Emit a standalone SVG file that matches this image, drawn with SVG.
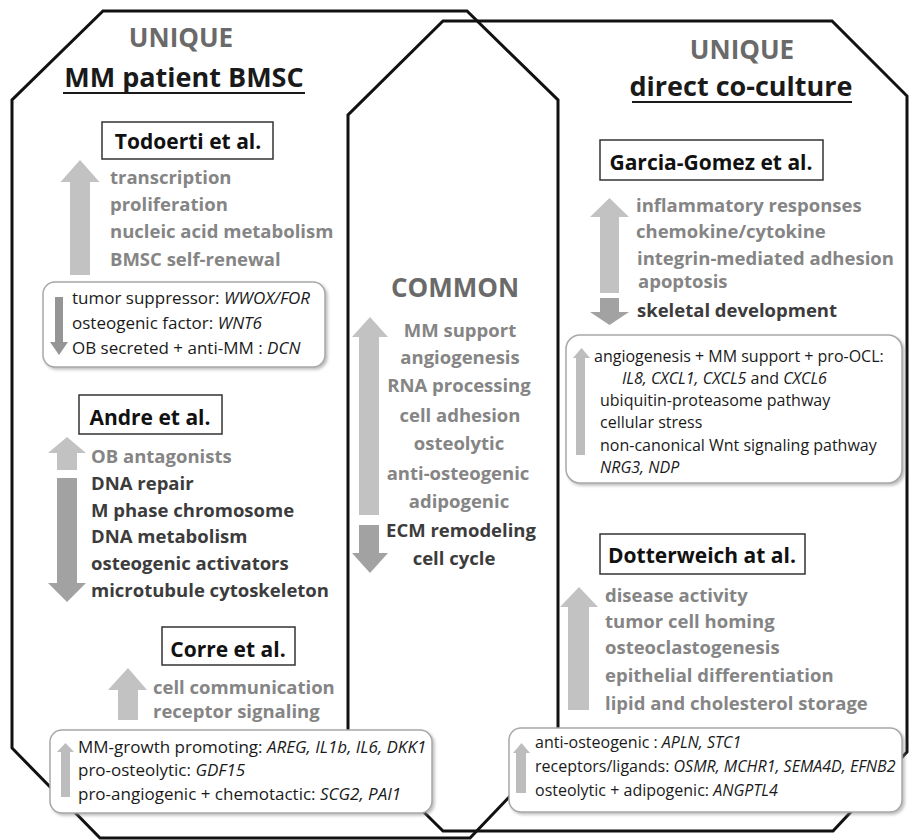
<svg xmlns="http://www.w3.org/2000/svg" width="909" height="840" viewBox="0 0 909 840">
<defs>
<filter id="sh" x="-5%" y="-10%" width="112%" height="130%">
<feDropShadow dx="2" dy="2" stdDeviation="1.5" flood-color="#888" flood-opacity="0.55"/>
</filter>
<style>
.oct{fill:none;stroke:#111;stroke-width:3;stroke-linejoin:miter}
.lbl{fill:#fff;stroke:#333;stroke-width:1.5}
.rb{fill:#fff;stroke:#a8a8a8;stroke-width:1.5;filter:url(#sh)}
text{font-family:"Open Sans","Noto Sans","Liberation Sans",sans-serif}
.hd{font-weight:bold;font-size:26px;fill:#6a6a6a;text-anchor:middle}
.hd2{font-weight:bold;font-size:27px;fill:#1a1a1a;text-anchor:middle}
.ttl{font-weight:bold;font-size:21px;fill:#111;text-anchor:middle}
.g{font-weight:bold;font-size:18.5px;fill:#858585}
.d{font-weight:bold;font-size:18.5px;fill:#3c3c3c}
.s{font-size:16px;fill:#1a1a1a}
.s17{font-size:17px}
.i{font-style:italic}
.la{fill:#c2c2c2}
.da{fill:#a2a2a2}
.ul{stroke:#1a1a1a;stroke-width:2}
</style>
</defs>
<g id="regions">
<path id="left-region" class="oct" d="M103,11 L467,11 L558,100 L558,746 L470,838 L100,838 L12,748 L12,100 Z"/>
<path id="right-region" class="oct" d="M443,21 L832,21 L907,96 L907,752 L833,831 L443,831 L348,737 L348,115 Z"/>
</g>
<g id="header-left">
<text class="hd" x="181" y="47">UNIQUE</text>
<text class="hd2" x="184" y="87">MM patient BMSC</text>
<line class="ul" x1="63" y1="93" x2="305" y2="93"/>
</g>
<g id="header-right">
<text class="hd" x="742" y="59">UNIQUE</text>
<text class="hd2" x="741" y="96">direct co-culture</text>
<line class="ul" x1="632" y1="102" x2="852" y2="102"/>
</g>
<g id="todoerti">
<rect class="lbl" x="102" y="122" width="171" height="37"/>
<text class="ttl" x="188" y="149">Todoerti et al.</text>
<polygon class="la" points="70,275 70,182 60.5,182 80,160 99.5,182 90,182 90,275"/>
<text class="g" x="110" y="184">transcription</text>
<text class="g" x="110" y="211">proliferation</text>
<text class="g" x="110" y="238">nucleic acid metabolism</text>
<text class="g" x="110" y="266">BMSC self-renewal</text>
</g>
<g id="todoerti-genes">
<rect class="rb" x="43" y="282" width="282" height="85" rx="12"/>
<polygon fill="#959595" points="55,297 63,297 63,342 68,342 59,355 50,342 55,342"/>
<text class="s s17" x="72" y="304">tumor suppressor: <tspan class="i">WWOX/FOR</tspan></text>
<text class="s s17" x="72" y="329">osteogenic factor: <tspan class="i">WNT6</tspan></text>
<text class="s s17" x="72" y="354">OB secreted + anti-MM : <tspan class="i">DCN</tspan></text>
</g>
<g id="andre">
<rect class="lbl" x="79" y="395" width="143" height="39"/>
<text class="ttl" x="150" y="425">Andre et al.</text>
<polygon class="la" points="57,470 57,453 48,453 67,437 86,453 77,453 77,470"/>
<polygon class="da" points="57,478 77,478 77,583 86,583 67,602 48,583 57,583"/>
<text class="g" x="91" y="463" fill="#999">OB antagonists</text>
<text class="d" x="91" y="490">DNA repair</text>
<text class="d" x="91" y="517">M phase chromosome</text>
<text class="d" x="91" y="543">DNA metabolism</text>
<text class="d" x="91" y="570">osteogenic activators</text>
<text class="d" x="91" y="597">microtubule cytoskeleton</text>
</g>
<g id="corre">
<rect class="lbl" x="162" y="627" width="133" height="38"/>
<text class="ttl" x="228" y="657">Corre et al.</text>
<polygon class="la" points="118,720 118,690 108,690 128,668 147,690 138,690 138,720"/>
<text class="g" x="153" y="694">cell communication</text>
<text class="g" x="153" y="718">receptor signaling</text>
</g>
<g id="corre-genes">
<rect class="rb" x="50" y="730" width="382" height="83" rx="12"/>
<polygon fill="#bdbdbd" points="61,797 61,752 57,752 65.5,743 74,752 70,752 70,797"/>
<text class="s s17" x="78" y="753">MM-growth promoting: <tspan class="i">AREG, IL1b, IL6, DKK1</tspan></text>
<text class="s s17" x="78" y="776">pro-osteolytic: <tspan class="i">GDF15</tspan></text>
<text class="s s17" x="78" y="800">pro-angiogenic + chemotactic: <tspan class="i">SCG2, PAI1</tspan></text>
</g>
<g id="common">
<text class="hd" x="455" y="297" font-size="27">COMMON</text>
<polygon class="la" points="359,515 359,337 352,337 370,317 388,337 379,337 379,515"/>
<polygon class="da" points="359,525 379,525 379,553 388,553 370,573 352,553 359,553"/>
<g text-anchor="middle">
<text class="g" x="460" y="337">MM support</text>
<text class="g" x="460" y="364">angiogenesis</text>
<text class="g" x="459" y="392">RNA processing</text>
<text class="g" x="460" y="422">cell adhesion</text>
<text class="g" x="459" y="450">osteolytic</text>
<text class="g" x="458" y="480">anti-osteogenic</text>
<text class="g" x="459" y="508">adipogenic</text>
<text class="d" x="461" y="537">ECM remodeling</text>
<text class="d" x="454" y="565">cell cycle</text>
</g>
</g>
<g id="garcia-gomez">
<rect class="lbl" x="600" y="140" width="223" height="40"/>
<text class="ttl" x="711" y="170">Garcia-Gomez et al.</text>
<polygon class="la" points="600,293 600,217 590,217 609.5,198 629,217 619,217 619,293"/>
<polygon class="da" points="600,298 619,298 619,312 629,312 609.5,325 590,312 600,312"/>
<text class="g" x="636" y="212">inflammatory responses</text>
<text class="g" x="636" y="238">chemokine/cytokine</text>
<text class="g" x="637" y="265">integrin-mediated adhesion</text>
<text class="g" x="638" y="288">apoptosis</text>
<text class="d" x="637" y="317">skeletal development</text>
</g>
<g id="garcia-gomez-genes">
<rect class="rb" x="566" y="335" width="336" height="148" rx="14"/>
<polygon fill="#bdbdbd" points="576,455 576,358 573,358 581.5,348 590,358 585,358 585,455"/>
<text class="s" x="594" y="362" font-size="16.3">angiogenesis + MM support + pro-OCL:</text>
<text class="s i" x="622" y="384" font-size="16.3">IL8, CXCL1, CXCL5 <tspan font-style="normal">and</tspan> CXCL6</text>
<text class="s" x="600" y="406" font-size="16.3">ubiquitin-proteasome pathway</text>
<text class="s" x="600" y="428" font-size="16.3">cellular stress</text>
<text class="s" x="600" y="451" font-size="16.3">non-canonical Wnt signaling pathway</text>
<text class="s i" x="600" y="473" font-size="16.3">NRG3, NDP</text>
</g>
<g id="dotterweich">
<rect class="lbl" x="600" y="534" width="205" height="40"/>
<text class="ttl" x="702" y="563">Dotterweich at al.</text>
<polygon class="la" points="568,710 568,607 560,607 579,587 598,607 589,607 589,710"/>
<text class="g" x="605" y="602">disease activity</text>
<text class="g" x="605" y="628">tumor cell homing</text>
<text class="g" x="605" y="654">osteoclastogenesis</text>
<text class="g" x="605" y="682">epithelial differentiation</text>
<text class="g" x="605" y="710">lipid and cholesterol storage</text>
</g>
<g id="dotterweich-genes">
<rect class="rb" x="509" y="728" width="393" height="84" rx="12"/>
<polygon fill="#bdbdbd" points="516,793 516,753 513,753 521.5,743 530,753 526,753 526,793"/>
<text class="s" x="535" y="748" font-size="15.5">anti-osteogenic : <tspan class="i">APLN, STC1</tspan></text>
<text class="s" x="535" y="772" font-size="15.5">receptors/ligands: <tspan class="i">OSMR, MCHR1, SEMA4D, EFNB2</tspan></text>
<text class="s" x="535" y="796" font-size="15.5">osteolytic + adipogenic: <tspan class="i">ANGPTL4</tspan></text>
</g>
<g id="connectors"/>
</svg>
